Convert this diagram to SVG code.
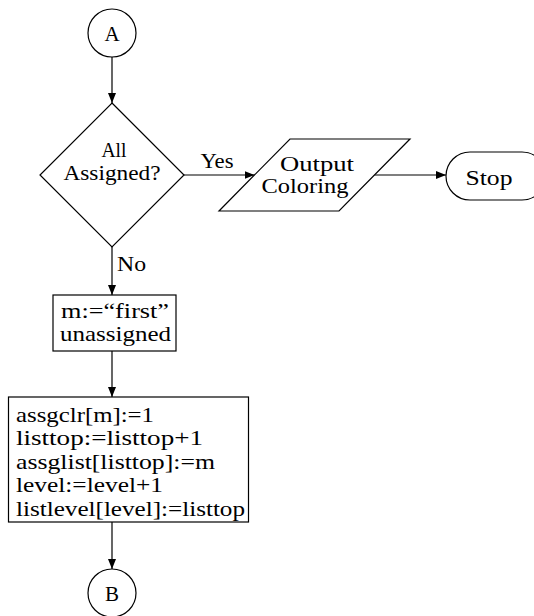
<svg xmlns="http://www.w3.org/2000/svg" width="534" height="616" viewBox="0 0 534 616" font-family="'Liberation Serif', 'DejaVu Serif', serif" font-size="21">
<style>
.s{fill:#fff;stroke:#000;stroke-width:1.2}
.c{text-anchor:middle}
.e{fill:none;stroke:#000;stroke-width:1.2}
</style>
<defs>
<marker id="ah" viewBox="0 0 10 8" refX="10" refY="4" markerWidth="10" markerHeight="8" markerUnits="userSpaceOnUse" orient="auto">
<path d="M0,0 L10,4 L0,8 Z" fill="#000"/>
</marker>
</defs>
<rect width="534" height="616" fill="#fff"/>
<g id="connectors">
<path class="e" d="M112,57 V103" marker-end="url(#ah)"/>
<path class="e" d="M184,175 H254.5" marker-end="url(#ah)"/>
<text x="217" y="168" class="c" textLength="33" lengthAdjust="spacingAndGlyphs">Yes</text>
<path class="e" d="M374.5,175 H446" marker-end="url(#ah)"/>
<path class="e" d="M112,247 V295" marker-end="url(#ah)"/>
<text x="117" y="271" textLength="29" lengthAdjust="spacingAndGlyphs">No</text>
<path class="e" d="M112,351 V397" marker-end="url(#ah)"/>
<path class="e" d="M112,522 V569" marker-end="url(#ah)"/>
</g>
<g id="nodeA">
<circle class="s" cx="112" cy="33" r="24"/>
<text x="112" y="41" class="c">A</text>
</g>
<g id="decision">
<polygon class="s" points="112,103 184,175 112,247 40,175"/>
<text x="114" y="157" class="c" textLength="25" lengthAdjust="spacingAndGlyphs">All</text>
<text x="112" y="180" class="c" textLength="97" lengthAdjust="spacingAndGlyphs">Assigned?</text>
</g>
<g id="output">
<polygon class="s" points="290,139 410,139 339,211 219,211"/>
<text x="317" y="171" class="c" textLength="74" lengthAdjust="spacingAndGlyphs">Output</text>
<text x="305" y="193" class="c" textLength="87" lengthAdjust="spacingAndGlyphs">Coloring</text>
</g>
<g id="stop">
<rect class="s" x="446" y="152" width="100" height="48" rx="24" ry="24"/>
<text x="489" y="185" class="c" textLength="47" lengthAdjust="spacingAndGlyphs">Stop</text>
</g>
<g id="init">
<rect class="s" x="53" y="295" width="123" height="56"/>
<text x="61" y="318" textLength="108" lengthAdjust="spacingAndGlyphs">m:=“first”</text>
<text x="60" y="341" textLength="111" lengthAdjust="spacingAndGlyphs">unassigned</text>
</g>
<g id="assign">
<rect class="s" x="8.5" y="397" width="240" height="125"/>
<text x="16" y="421.5" textLength="138" lengthAdjust="spacingAndGlyphs">assgclr[m]:=1</text>
<text x="16" y="445" textLength="187" lengthAdjust="spacingAndGlyphs">listtop:=listtop+1</text>
<text x="16" y="468.5" textLength="199" lengthAdjust="spacingAndGlyphs">assglist[listtop]:=m</text>
<text x="16" y="492" textLength="147" lengthAdjust="spacingAndGlyphs">level:=level+1</text>
<text x="16" y="515.5" textLength="229" lengthAdjust="spacingAndGlyphs">listlevel[level]:=listtop</text>
</g>
<g id="nodeB">
<circle class="s" cx="112" cy="593" r="24"/>
<text x="112" y="601" class="c">B</text>
</g>
</svg>
